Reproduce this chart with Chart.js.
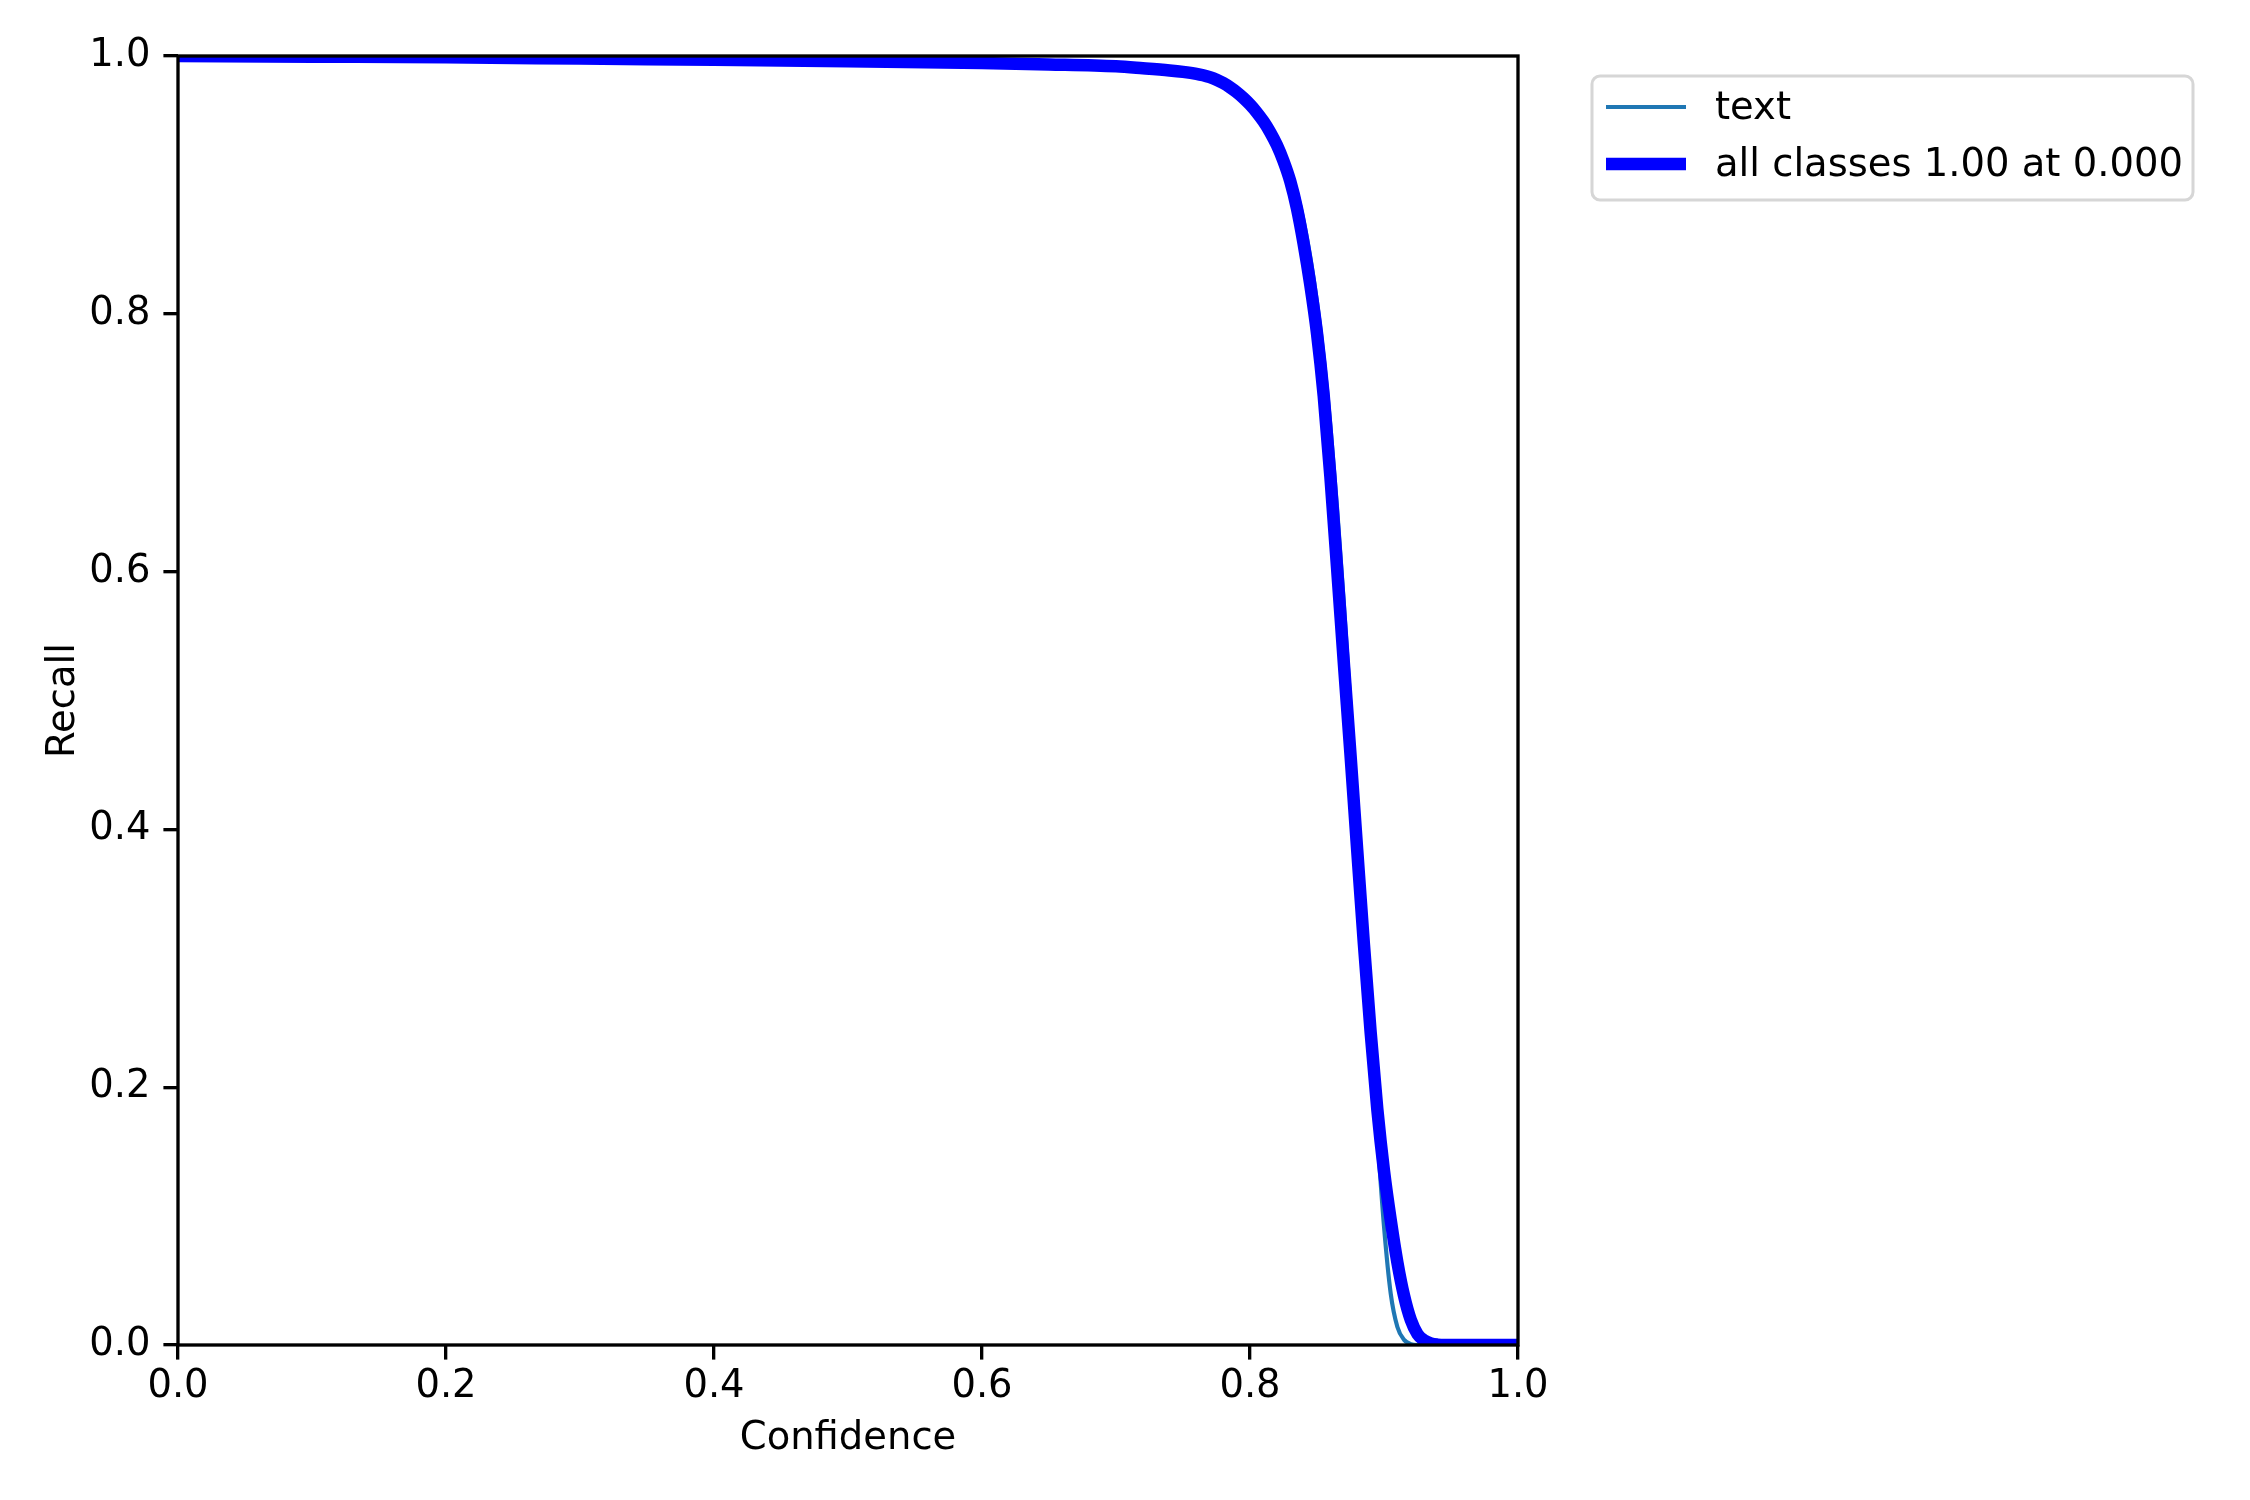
<!DOCTYPE html>
<html>
<head>
<meta charset="utf-8">
<title>Recall-Confidence Curve</title>
<script src="https://cdn.jsdelivr.net/npm/chart.js@4.4.0/dist/chart.umd.min.js"></script>
<style>
  body { margin: 0; background: #fff; }
  canvas { display: block; }
</style>
</head>
<body>
<canvas id="chart" width="2250" height="1500"></canvas>
<script>
// Values
const confidence = [0, 0.1, 0.2, 0.3, 0.4, 0.5, 0.6, 0.65, 0.7, 0.72, 0.74, 0.75, 0.76, 0.765, 0.77,
    0.775, 0.78, 0.785, 0.79, 0.795, 0.80, 0.805, 0.81, 0.815, 0.82,
    0.825, 0.83, 0.835, 0.84, 0.845, 0.85, 0.855, 0.86, 0.865, 0.87,
    0.875, 0.88, 0.885, 0.89, 0.895, 0.90, 0.905, 0.91, 0.915, 0.92,
    0.925, 0.93, 0.935, 0.94, 0.945, 0.95, 1.0];

const recallText = [1.000, 0.9995, 0.999, 0.998, 0.997, 0.996, 0.9945, 0.9935, 0.992, 0.9905, 0.9888, 0.9877, 0.9862, 0.9851, 0.9836,
    0.9818, 0.9795, 0.9765, 0.973, 0.969, 0.9645, 0.959, 0.9525, 0.945, 0.936,
    0.925, 0.911, 0.894, 0.872, 0.844, 0.809, 0.766, 0.713, 0.649, 0.576,
    0.495, 0.410, 0.325, 0.242, 0.163, 0.092, 0.040, 0.014, 0.004, 0.0007,
    0, 0, 0, 0, 0, 0, 0];

const recallAll = [1.000, 0.9995, 0.999, 0.998, 0.997, 0.996, 0.9945, 0.9935, 0.992, 0.9905, 0.9888, 0.9877, 0.9862, 0.9851, 0.9836,
    0.9816, 0.979, 0.9758, 0.972, 0.9675, 0.9623, 0.9563, 0.9493, 0.941, 0.931,
    0.9185, 0.903, 0.882, 0.8545, 0.8225, 0.785, 0.7365, 0.6735, 0.6025, 0.5295,
    0.458, 0.384, 0.311, 0.243, 0.183, 0.135, 0.097, 0.064, 0.038, 0.0195,
    0.0085, 0.0035, 0.0012, 0.0003, 0, 0, 0];

const tickLabels = ['0.0', '0.2', '0.4', '0.6', '0.8', '1.0'];
const seriesNames = ['text', 'all classes 1.00 at 0.000'];
const seriesColors = ['#1f77b4', '#0000ff'];

const FONT = { family: '"DejaVu Sans", sans-serif', size: 38.5 };

function toPoints(ys) {
    return confidence.map((c, i) => ({ x: c, y: ys[i] }));
}

// matplotlib style frame drawn over the lines
const framePlugin = {
    id: 'frame',
    afterDatasetsDraw(chart) {
        const { ctx, chartArea: a } = chart;
        ctx.save();
        ctx.strokeStyle = '#000';
        ctx.lineWidth = 3.33;
        ctx.strokeRect(a.left, a.top, a.right - a.left, a.bottom - a.top);
        ctx.restore();
    }
};

// legend box outside the axes, upper left
const legendPlugin = {
    id: 'mplLegend',
    afterDraw(chart) {
        const ctx = chart.ctx;
        const box = { x: 1592, y: 76, w: 601, h: 124 };
        ctx.save();
        ctx.beginPath();
        ctx.roundRect(box.x, box.y, box.w, box.h, 8);
        ctx.fillStyle = 'rgba(255,255,255,0.8)';
        ctx.fill();
        ctx.strokeStyle = '#d6d6d6';
        ctx.lineWidth = 3;
        ctx.stroke();

        const rows = [107, 164];
        const widths = [4.17, 12.5];
        ctx.font = FONT.size + 'px ' + FONT.family;
        ctx.textBaseline = 'middle';
        ctx.fillStyle = '#000';
        seriesNames.forEach((name, i) => {
            ctx.beginPath();
            ctx.strokeStyle = seriesColors[i];
            ctx.lineWidth = widths[i];
            ctx.lineCap = 'butt';
            ctx.moveTo(1606, rows[i]);
            ctx.lineTo(1686, rows[i]);
            ctx.stroke();
            ctx.fillText(name, 1715, rows[i] + 2);
        });
        ctx.restore();
    }
};

const axisGrid = {
    drawOnChartArea: false,
    drawTicks: true,
    tickLength: 14.6,
    lineWidth: 3.33,
    tickWidth: 3.33,
    tickColor: '#000'
};

new Chart(document.getElementById('chart'), {
    type: 'line',
    data: {
        datasets: [
            {
                label: seriesNames[0],
                data: toPoints(recallText),
                borderColor: seriesColors[0],
                borderWidth: 4.17,
                order: 1
            },
            {
                label: seriesNames[1],
                data: toPoints(recallAll),
                borderColor: seriesColors[1],
                borderWidth: 12.5,
                order: 0
            }
        ]
    },
    options: {
        responsive: false,
        devicePixelRatio: 1,
        animation: false,
        layout: { padding: { left: 0, top: 56, right: 732, bottom: 0 } },
        elements: {
            point: { radius: 0, hoverRadius: 0 },
            line: { cubicInterpolationMode: 'monotone', fill: false, borderJoinStyle: 'round' }
        },
        datasets: { line: { clip: 0 } },
        plugins: { legend: { display: false }, tooltip: { enabled: false } },
        scales: {
            x: {
                type: 'linear',
                min: 0,
                max: 1,
                ticks: {
                    stepSize: 0.2,
                    color: '#000',
                    font: FONT,
                    padding: 4,
                    maxRotation: 0,
                    callback: (v, i) => tickLabels[i]
                },
                grid: axisGrid,
                border: { display: false },
                title: {
                    display: true,
                    text: 'Confidence',
                    color: '#000',
                    font: FONT,
                    padding: { top: 0, bottom: 38 }
                },
                afterFit: (scale) => { scale.height = 155; }
            },
            y: {
                type: 'linear',
                min: 0,
                max: 1,
                ticks: {
                    stepSize: 0.2,
                    color: '#000',
                    font: FONT,
                    padding: 13,
                    callback: (v, i) => tickLabels[i]
                },
                grid: axisGrid,
                border: { display: false },
                title: {
                    display: true,
                    text: 'Recall',
                    color: '#000',
                    font: FONT,
                    padding: { top: 41, bottom: 0 }
                },
                afterFit: (scale) => { scale.width = 178; }
            }
        }
    },
    plugins: [framePlugin, legendPlugin]
});
</script>
</body>
</html>
